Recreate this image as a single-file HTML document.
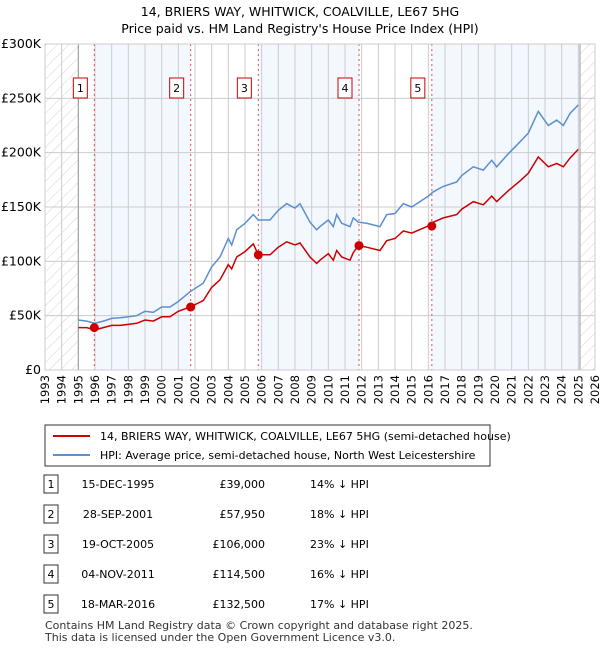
<!DOCTYPE html>
<html><head><meta charset="utf-8"><style>
body{margin:0;background:#fff;font-family:"Liberation Sans","DejaVu Sans",sans-serif;}
svg text{font-family:"DejaVu Sans","Liberation Sans",sans-serif;}
</style></head><body>
<svg id="c" width="600" height="650" xmlns="http://www.w3.org/2000/svg">
<defs><pattern id="h" width="8" height="8" patternUnits="userSpaceOnUse" patternTransform="rotate(45)"><line x1="0" y1="0" x2="0" y2="8" stroke="#d4d4d4" stroke-width="1"/></pattern></defs>
<text x="300" y="16" text-anchor="middle" font-size="12.5">14, BRIERS WAY, WHITWICK, COALVILLE, LE67 5HG</text>
<text x="300" y="33" text-anchor="middle" font-size="12.5">Price paid vs. HM Land Registry's House Price Index (HPI)</text>
<g id="plot"></g>
<g>
<rect x="45" y="425" width="445" height="41" fill="#fff" stroke="#333"/>
<line x1="53" y1="436" x2="90" y2="436" stroke="#cc0000" stroke-width="2"/>
<text x="100" y="440" font-size="11">14, BRIERS WAY, WHITWICK, COALVILLE, LE67 5HG (semi-detached house)</text>
<line x1="53" y1="455" x2="90" y2="455" stroke="#5b8fd0" stroke-width="2"/>
<text x="100" y="459" font-size="11">HPI: Average price, semi-detached house, North West Leicestershire</text>
</g>
<g id="table" font-size="11"></g>
<text x="45" y="629" font-size="11" fill="#333">Contains HM Land Registry data © Crown copyright and database right 2025.</text>
<text x="45" y="641" font-size="11" fill="#333">This data is licensed under the Open Government Licence v3.0.</text>
</svg>
<script>
const hpiDates=[1995.0,1995.5,1996.0,1996.5,1997.0,1997.5,1998.0,1998.5,1999.0,1999.5,2000.0,2000.5,2001.0,2001.7,2002.5,2003.0,2003.5,2004.0,2004.2,2004.5,2005.0,2005.5,2005.8,2006.5,2007.0,2007.5,2008.0,2008.3,2008.9,2009.3,2009.5,2010.0,2010.3,2010.5,2010.8,2011.3,2011.5,2011.8,2012.3,2013.1,2013.5,2014.0,2014.5,2015.0,2016.0,2016.3,2016.9,2017.7,2018.0,2018.7,2019.3,2019.8,2020.1,2020.8,2021.5,2022.0,2022.6,2023.2,2023.7,2024.1,2024.5,2025.0];
const hpiValues=[46,45,43,45,47.5,48,49,50,54,53,58,58,63,72,80,95,104,121,115,129,135,143,138,138,147,153,149,153,136,129,132,138,132,143,135,132,140,136,135,132,143,144,153,150,160,164,169,173,179,187,184,193,187,199,210,218,238,225,230,225,236,244];
const priceDates=hpiDates;
const priceValues=[39,39,37,39,41,41,42,43,46,45,49,49,54,58,64,76,83,97,93,104,109,116,106,106,113,118,115,117,104,98,101,107,101,110,104,101,108,114.5,113,110,119,121,128,126,132.5,136,140,143,148,155,152,160,155,165,174,181,196,187,190,187,195,203];
const saleDates=[1995.96,2001.74,2005.8,2011.84,2016.21];
const saleValues=[39,57.95,106,114.5,132.5];
const saleLabels=["1","2","3","4","5"];
const saleDateText=["15-DEC-1995","28-SEP-2001","19-OCT-2005","04-NOV-2011","18-MAR-2016"];
const salePriceText=["£39,000","£57,950","£106,000","£114,500","£132,500"];
const saleDiffText=["14% ↓ HPI","18% ↓ HPI","23% ↓ HPI","16% ↓ HPI","17% ↓ HPI"];
const yTicks=[0,50,100,150,200,250,300];
const yTickLabels=["£0","£50K","£100K","£150K","£200K","£250K","£300K"];
const xStart=1993,xEnd=2026,dataStart=1995,dataEnd=2025.1;
const L=45,R=595,T=44,B=370;
const xs=v=>L+(v-xStart)/(xEnd-xStart)*(R-L);
const ys=v=>B-v/300*(B-T);
const NS="http://www.w3.org/2000/svg";
const plot=document.getElementById('plot');
function mk(tag,attrs,parent){const e=document.createElementNS(NS,tag);for(const k in attrs)e.setAttribute(k,attrs[k]);(parent||plot).appendChild(e);return e;}
const bandEdges=[dataStart].concat(saleDates,[dataEnd]);
for(let i=0;i<bandEdges.length-1;i++){
  if(i%2===1){const r=mk('rect',{x:xs(bandEdges[i]),y:T,width:xs(bandEdges[i+1])-xs(bandEdges[i]),height:B-T,fill:'#eef3fd',opacity:0.7});
  
  }
}
const h1=mk('rect',{x:L,y:T,width:xs(dataStart)-L,height:B-T,fill:'url(#h)'});


const h2=mk('rect',{x:xs(dataEnd),y:T,width:R-xs(dataEnd),height:B-T,fill:'url(#h)'});


for(let yr=xStart;yr<=xEnd;yr++){
  const g=mk('line',{x1:xs(yr),x2:xs(yr),y1:T,y2:B,stroke:'#ccc','stroke-width':1});
  
  
  const t=mk('text',{transform:`translate(${xs(yr)+4},375) rotate(-90)`,'text-anchor':'end','font-size':11.5});
  t.textContent=yr;
  
  
}
yTicks.forEach((v,i)=>{
  const g=mk('line',{x1:L,x2:R,y1:ys(v),y2:ys(v),stroke:'#ccc','stroke-width':1});
  
  
  const t=mk('text',{x:L-4,y:ys(v)+4,'text-anchor':'end','font-size':12.5});
  t.textContent=yTickLabels[i];
  
  
});
const bl=mk('line',{x1:xs(dataStart),x2:xs(dataStart),y1:T,y2:B,stroke:'#999'});


const el=mk('line',{x1:xs(dataEnd),x2:xs(dataEnd),y1:T,y2:B,stroke:'#999'});


saleDates.forEach((d,i)=>{
  const l=mk('line',{x1:xs(d),x2:xs(d),y1:T,y2:B,stroke:'#e05050','stroke-dasharray':'2,3','stroke-width':1});
  
  
  const r=mk('rect',{x:xs(d)-21,y:78,width:14,height:20,fill:'#fff',stroke:'#cc0000'});
  
  
  const t=mk('text',{x:xs(d)-14,y:92,'text-anchor':'middle','font-size':11});
  t.textContent=saleLabels[i];
  
  
});
function path(dates,vals){return dates.map((d,i)=>(i?'L':'M')+xs(d).toFixed(1)+','+ys(vals[i]).toFixed(1)).join('');}
const hp=mk('path',{d:path(hpiDates,hpiValues),fill:'none',stroke:'#5b8fd0','stroke-width':1.5});


const pp=mk('path',{d:path(priceDates,priceValues),fill:'none',stroke:'#cc0000','stroke-width':1.5});


saleDates.forEach((d,i)=>{
  const c=mk('circle',{cx:xs(d),cy:ys(saleValues[i]),r:4.5,fill:'#cc0000'});
  
  
});
const fr=mk('rect',{x:L,y:T,width:R-L,height:B-T,fill:'none',stroke:'#ccc'});


const tb=document.getElementById('table');
const rowY=[484,514,544,574,604];
saleLabels.forEach((s,i)=>{
  const y=rowY[i];
  const b=mk('rect',{x:44,y:y-9,width:14,height:18,fill:'#fff',stroke:'#333'},tb);
  
  
  const cells=[[s,51,'middle'],[saleDateText[i],118,'middle'],[salePriceText[i],265,'end'],[saleDiffText[i],310,'start']];
  cells.forEach(c=>{const t=mk('text',{x:c[1],y:y+4,'text-anchor':c[2]},tb);t.textContent=c[0];
  
  });
});
</script>
</body></html>
